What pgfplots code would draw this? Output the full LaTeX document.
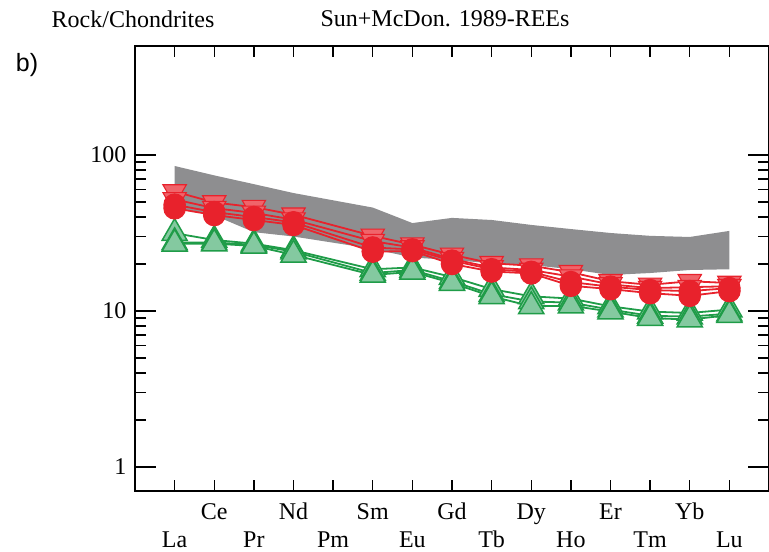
\documentclass[border=0pt]{standalone}
\usepackage{fontspec}
\setmainfont{Liberation Serif}
\newfontfamily\labelsans{Liberation Sans}
\usepackage{pgfplots}
\usepackage{pgfplotstable}
\pgfplotsset{compat=1.18}

\definecolor{band}{HTML}{8E8E90}
\definecolor{redline}{HTML}{E8222C}
\definecolor{redfill}{HTML}{F0646A}
\definecolor{greenline}{HTML}{1F9C48}
\definecolor{greenfill}{HTML}{84C9A0}

% Chondrite-normalised REE (Sun & McDonough 1989); Pm (x=5) not analysed
\pgfplotstableread{
x  r1   r2   r3   r4   g1   g2   g3
1  58.3 51.9 48.0 45.5 31.5 27.5 26.9
2  49.6 45.6 43.0 41.2 28.5 27.5 27.0
3  46.3 42.5 40.0 38.3 27.0 26.5 26.1
4  41.4 38.5 37.0 35.6 24.5 24.0 22.9
6  30.3 28.0 25.5 24.0 18.5 17.5 17.0
7  26.6 25.5 24.8 24.2 19.0 18.3 17.8
8  22.9 21.5 21.0 20.0 16.5 15.5 15.1
9  20.2 19.0 18.5 17.9 13.8 12.8 12.4
10 19.5 18.3 17.8 17.4 12.4 11.5 10.7
11 17.7 16.6 15.3 14.5 12.0 11.3 10.8
12 15.5 14.8 14.3 13.8 10.7 10.2 9.9
13 14.7 14.0 13.6 13.0 9.9  9.3  9.0
14 15.5 14.2 13.4 12.5 9.7  9.2  8.8
15 15.1 14.4 14.0 13.4 10.2 9.6  9.4
}\ree

\pgfplotsset{
  redtri/.style={color=redline, line width=1.8bp, mark=triangle*, mark size=13.5bp,
    mark options={rotate=180, fill=redfill, draw=redline, line width=1.1bp}},
  redcirc/.style={color=redline, line width=1.8bp, mark=*, mark size=10.8bp,
    mark options={fill=redline, draw=redline, line width=1bp}},
  greentri/.style={color=greenline, line width=1.8bp, mark=triangle*, mark size=14.5bp,
    mark options={fill=greenfill, draw=greenline, line width=1.5bp}},
}

\newcommand{\low}[1]{\raisebox{-28bp}{#1}}

\begin{document}
\begin{tikzpicture}
\begin{axis}[
  at={(135bp,61bp)}, anchor=south west,
  scale only axis, width=634bp, height=445bp,
  ymode=log, ymin=0.7, ymax=500,
  xmin=0, xmax=16,
  % element names on two staggered rows; short tick marks drawn as minor ticks
  xtick={1,...,15},
  xticklabels={\low{La},Ce,\low{Pr},Nd,\low{Pm},Sm,\low{Eu},Gd,\low{Tb},Dy,\low{Ho},Er,\low{Tm},Yb,\low{Lu}},
  major x tick style={draw=none},
  minor xtick={1,...,15},
  ytick={1,10,100}, yticklabels={1,10,100},
  major tick length=21bp, minor tick length=11bp,
  tick style={black, line width=1.4bp},
  axis line style={black, line width=1.9bp},
  tick label style={font=\fontsize{24bp}{28bp}\selectfont},
  xticklabel style={anchor=base, yshift=-28bp},
  yticklabel style={xshift=-5bp},
]
% field of comparison samples: upper edge La->Lu, then lower edge Lu->La
\addplot[fill=band, draw=none, mark=none] coordinates {
  (1,85) (2,74) (3,65) (4,57) (6,46) (7,36.6) (8,39.5) (9,38.3) (10,35.6)
  (11,33.5) (12,31.6) (13,30.3) (14,29.8) (15,32.6)
  (15,18.5) (14,18.3) (13,17.5) (12,17.0) (11,18.5) (10,19.7) (9,20.2)
  (8,21.2) (7,22) (6,25) (4,30) (3,32) (2,41) (1,46)
} -- cycle;

% group 1
\addplot[greentri] table[x=x, y=g1]{\ree};
\addplot[greentri] table[x=x, y=g2]{\ree};
\addplot[greentri] table[x=x, y=g3]{\ree};

% group 2
\addplot[redtri] table[x=x, y=r1]{\ree};
\addplot[redtri] table[x=x, y=r2]{\ree};
\addplot[redcirc] table[x=x, y=r3]{\ree};
\addplot[redcirc] table[x=x, y=r4]{\ree};
\end{axis}

\node[font=\fontsize{24bp}{28bp}\selectfont] at (133bp,533bp) {Rock/Chondrites};
\node[font=\fontsize{24bp}{28bp}\selectfont] at (445bp,533bp) {Sun+McDon. 1989-REEs};
\node[font=\labelsans\fontsize{25bp}{30bp}\selectfont] at (27bp,487bp) {b)};
\pgfresetboundingbox
\path[use as bounding box] (0,0) rectangle (769bp,552bp);
\end{tikzpicture}
\end{document}
